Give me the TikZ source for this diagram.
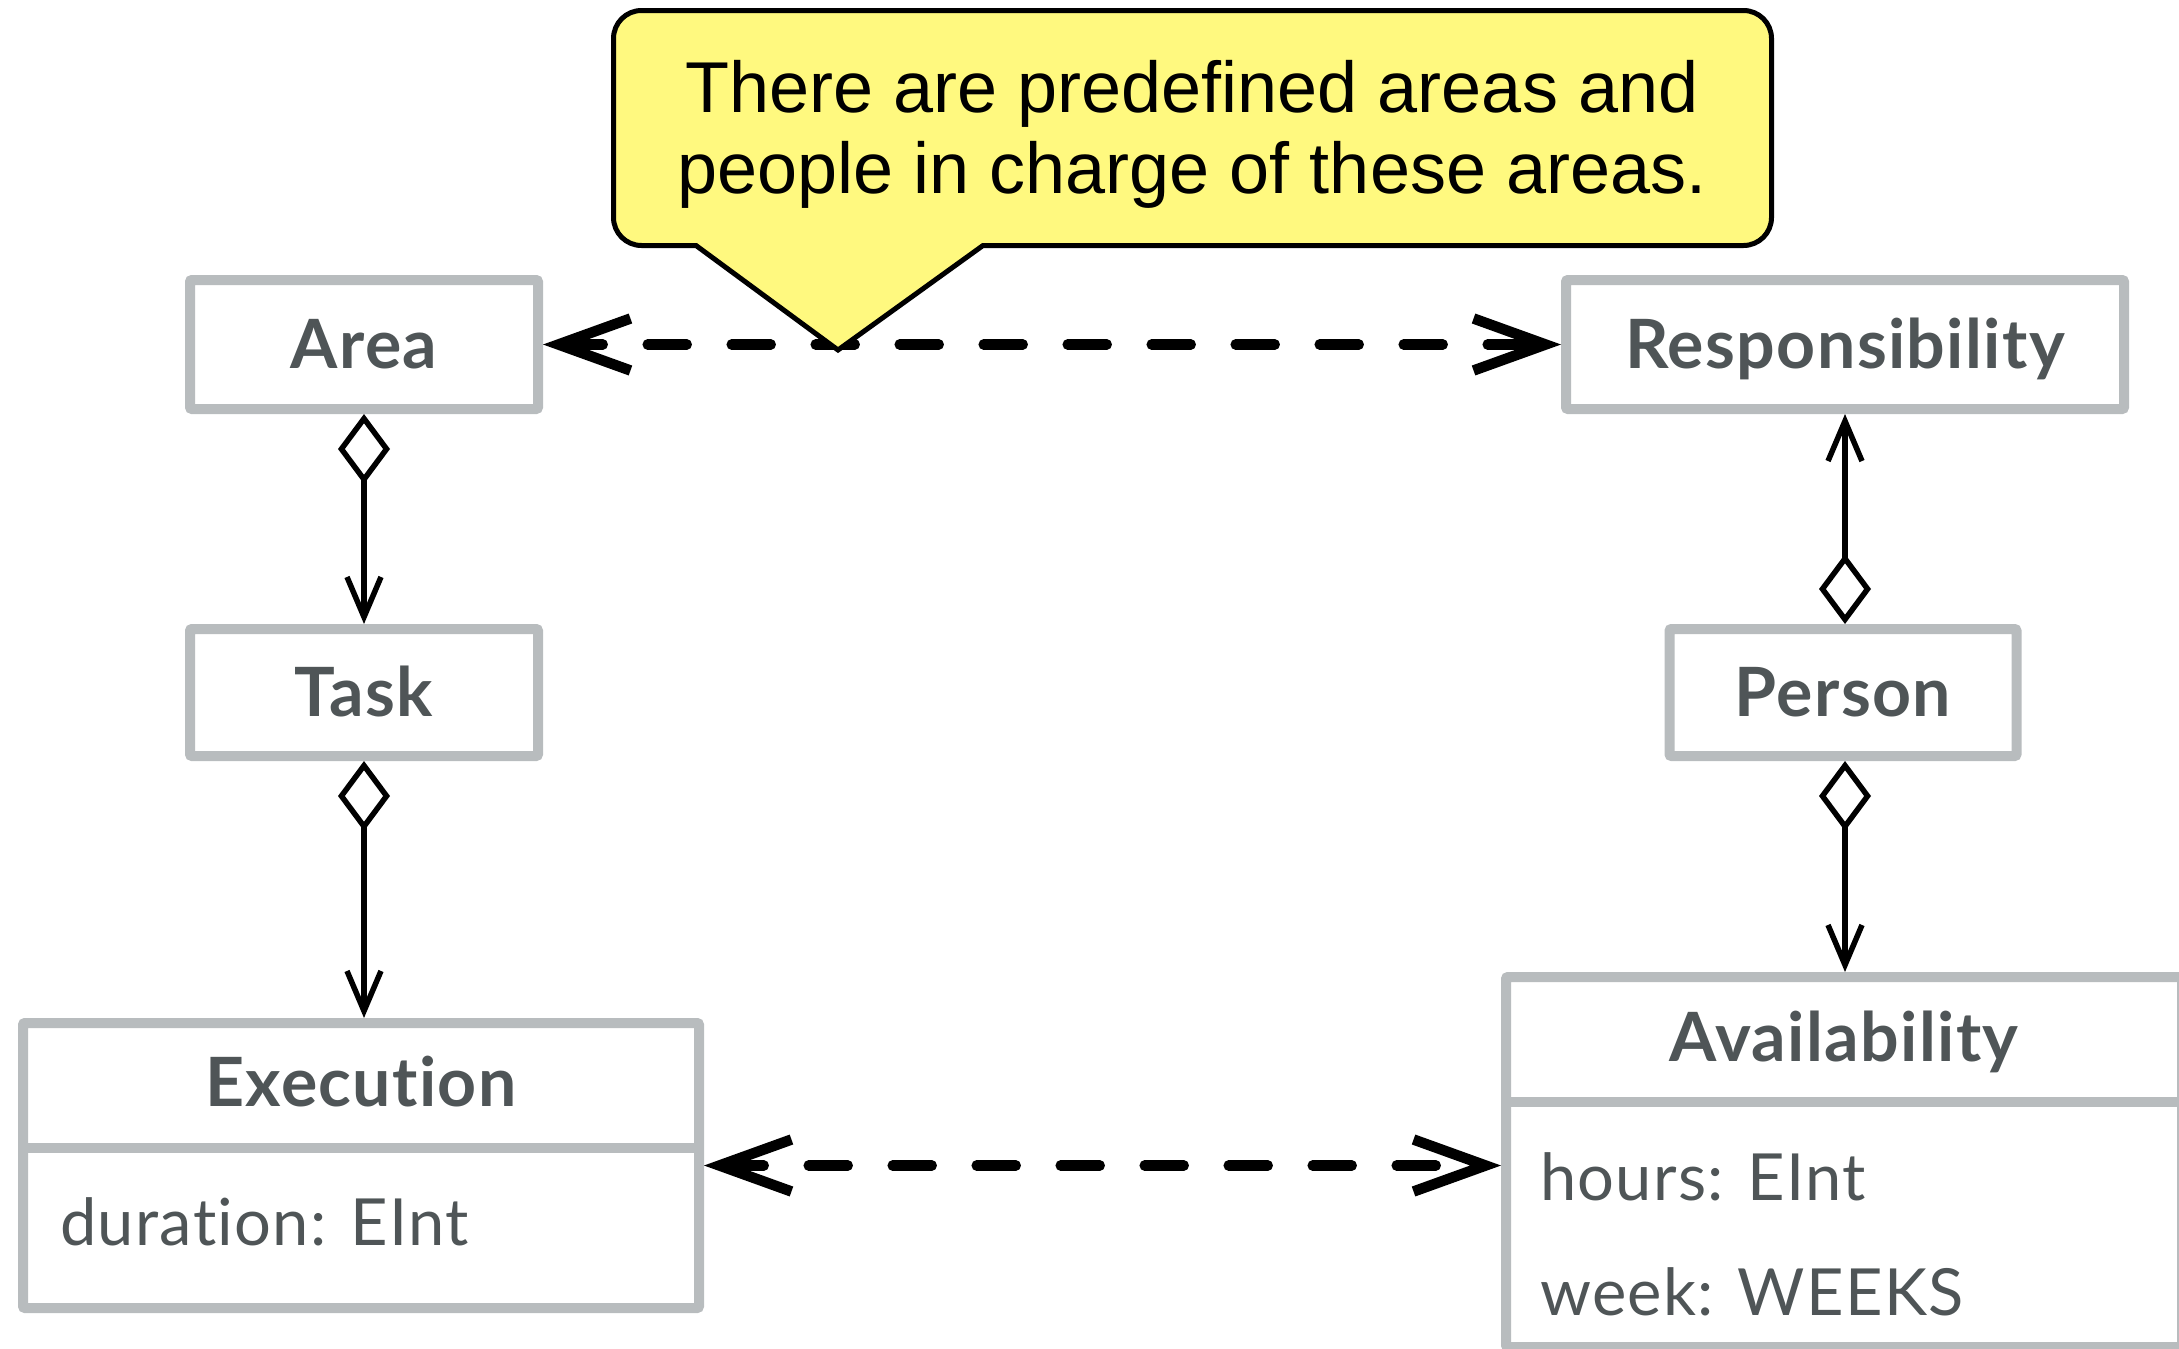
\documentclass[tikz,border=0pt]{standalone}
\usepackage{fontspec}
\setmainfont{Lato}[Ligatures=NoCommon]
\newfontfamily\namefont{Lato}[Ligatures=NoCommon, LetterSpace=2]
\newfontfamily\attrfont{Lato}[Ligatures=NoCommon, LetterSpace=2]
\newfontfamily\notefont{Liberation Sans}
\usetikzlibrary{arrows.meta}
\definecolor{boxgrey}{HTML}{B8BCBE}
\definecolor{inkgrey}{HTML}{4F5557}
\definecolor{noteyellow}{HTML}{FFF97F}

\begin{document}
\begin{tikzpicture}[x=1pt,y=-1pt,
  classbox/.style={draw=boxgrey, line width=10pt, fill=white, rectangle,
    inner sep=0pt, rounded corners=2pt, text=inkgrey,
    font=\namefont\fontsize{68}{80}\selectfont\bfseries, text height=48.7pt, text depth=0pt},
  classname/.style={text=inkgrey, inner sep=0pt,
    font=\namefont\fontsize{68}{80}\selectfont\bfseries, text height=48.7pt, text depth=0pt},
  attr/.style={anchor=base west, text=inkgrey, inner sep=0pt,
    font=\attrfont\fontsize{65}{78}\selectfont},
  divider/.style={draw=boxgrey, line width=10pt},
  agg/.style={line width=5.5pt,
    {Diamond[open, length=70pt, width=52pt, sharp]}-{Straight Barb[length=40pt, width=34pt, sharp]}},
  dep/.style={line width=10.5pt, dash pattern=on 39pt off 45pt, line cap=round,
    {Straight Barb[length=72pt, width=52pt, sharp]}-{Straight Barb[length=72pt, width=52pt, sharp]}},
  notebox/.style={draw=black, line width=5pt, fill=noteyellow, line join=miter},
  notetext/.style={anchor=base, inner sep=0pt, font=\notefont\fontsize{72}{81}\selectfont},
]
\useasboundingbox (0,0) rectangle (2179,1349);
\clip (0,0) rectangle (2179,1349);

% left column
\node[classbox, minimum width=348pt, minimum height=129pt] (area) at (364,344.5) {Area};
\node[classbox, minimum width=348pt, minimum height=127pt] (task) at (364,692.5) {Task};
\node[classbox, minimum width=676pt, minimum height=285pt] (exec) at (361,1165.5) {};
\node[classname] (execname) at (361,1082) {Execution};
\draw[divider] (exec.west |- 0,1148) -- (exec.east |- 0,1148);
\node[attr] (execdur) at (60,1245) {duration: EInt};

% right column
\node[classbox, minimum width=558pt, minimum height=129pt] (resp) at (1845,344.5) {Responsibility};
\node[classbox, minimum width=347pt, minimum height=127pt] (person) at (1843,692.5) {Person};
\node[classbox, minimum width=676pt, minimum height=370pt] (avail) at (1844,1162) {};
\node[classname] (availname) at (1844,1037) {Availability};
\draw[divider] (avail.west |- 0,1101.5) -- (avail.east |- 0,1101.5);
\node[attr] (availhours) at (1540,1200) {hours: EInt};
\node[attr] (availweek) at (1540,1315) {week: WEEKS};

% aggregations
\draw[agg] (area.south) -- (task.north);
\draw[agg] (task.south) -- (task.south |- exec.north);
\draw[agg] (person.north -| resp.south) -- (resp.south);
\draw[agg] (person.south -| resp.south) -- (resp.south |- avail.north);

% dependencies
\draw[dep] (area.east) -- (resp.west);
\draw[dep] (exec.east) -- (exec.east -| avail.west);

% note with pointer
\draw[notebox] (838,350) -- (696,245.5) -- (641.5,245.5)
  arc[start angle=90, end angle=180, radius=28] -- (613.5,38.5)
  arc[start angle=180, end angle=270, radius=28] -- (1743.5,10.5)
  arc[start angle=270, end angle=360, radius=28] -- (1771.5,217.5)
  arc[start angle=0, end angle=90, radius=28] -- (983,245.5) -- cycle;
\node[notetext] (note1) at (1192,112) {There are predefined areas and};
\node[notetext] (note2) at (1192,193) {people in charge of these areas.};
\end{tikzpicture}
\end{document}
